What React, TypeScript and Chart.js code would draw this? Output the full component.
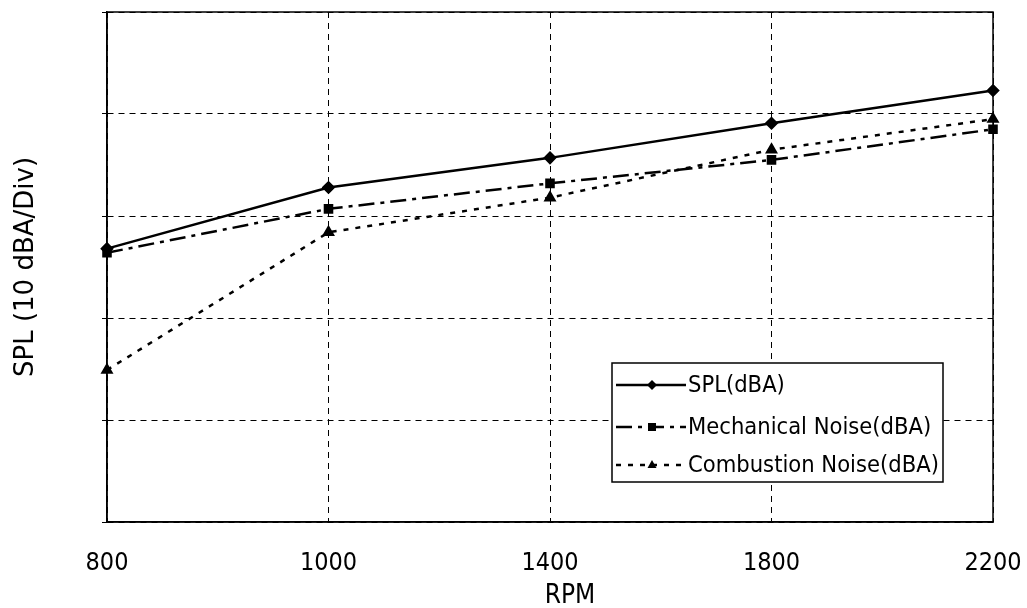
import React, { useEffect, useRef } from "react";
import { Chart, registerables } from "chart.js";

Chart.register(...registerables);

const rpmLabels = ["800", "1000", "1400", "1800", "2200"];
const splValues = [2.68, 3.28, 3.57, 3.91, 4.23];
const mechanicalValues = [2.64, 3.07, 3.32, 3.55, 3.85];
const combustionValues = [1.49, 2.84, 3.18, 3.65, 3.95];
const seriesNames = ["SPL(dBA)", "Mechanical Noise(dBA)", "Combustion Noise(dBA)"];
const yAxisMin = 0;
const yAxisMax = 5;
const yAxisStep = 1;
const yTitle = "SPL (10 dBA/Div)";
const xTitle = "RPM";

const narrowFont = "'DejaVu Sans Condensed', 'Liberation Sans Narrow', 'Liberation Sans', Arial, sans-serif";
const regularFont = "'DejaVu Sans', 'Liberation Sans', Arial, sans-serif";

function drawMarker(ctx: CanvasRenderingContext2D, style: string, x: number, y: number, r: number) {
  ctx.save();
  ctx.fillStyle = "#000";
  ctx.setLineDash([]);
  ctx.beginPath();
  if (style === "rectRot") {
    ctx.moveTo(x, y - r);
    ctx.lineTo(x + r, y);
    ctx.lineTo(x, y + r);
    ctx.lineTo(x - r, y);
  } else if (style === "rect") {
    ctx.rect(x - r * 0.8, y - r * 0.8, r * 1.6, r * 1.6);
  } else {
    ctx.moveTo(x, y - r);
    ctx.lineTo(x + r * 0.9, y + r * 0.6);
    ctx.lineTo(x - r * 0.9, y + r * 0.6);
  }
  ctx.closePath();
  ctx.fill();
  ctx.restore();
}

const framePlugin = {
  id: "frame",
  beforeDatasetsDraw(chart: any) {
    const { ctx, chartArea } = chart;
    ctx.save();
    ctx.strokeStyle = "#000";
    ctx.lineWidth = 1.5;
    ctx.setLineDash([]);
    ctx.strokeRect(chartArea.left, chartArea.top, chartArea.right - chartArea.left, chartArea.bottom - chartArea.top);
    ctx.restore();
  },
};

const xTitlePlugin = {
  id: "xTitleText",
  afterDraw(chart: any) {
    const { ctx, chartArea } = chart;
    ctx.save();
    ctx.fillStyle = "#000";
    ctx.font = "26px " + narrowFont;
    ctx.textAlign = "center";
    ctx.textBaseline = "middle";
    ctx.fillText(xTitle, (chartArea.left + chartArea.right) / 2 + 20, chartArea.bottom + 74);
    ctx.restore();
  },
};

const legendPlugin = {
  id: "boxLegend",
  afterDraw(chart: any) {
    const { ctx, chartArea } = chart;
    const bx = chartArea.left + 505;
    const by = chartArea.top + 351;
    const bw = 331;
    const bh = 119;
    ctx.save();
    ctx.fillStyle = "#fff";
    ctx.fillRect(bx, by, bw, bh);
    ctx.strokeStyle = "#000";
    ctx.lineWidth = 1.5;
    ctx.setLineDash([]);
    ctx.strokeRect(bx, by, bw, bh);
    const rows = [22, 64, 102];
    chart.data.datasets.forEach((ds: any, i: number) => {
      const y = by + rows[i];
      ctx.save();
      ctx.strokeStyle = "#000";
      ctx.lineWidth = ds.borderWidth;
      ctx.setLineDash(ds.borderDash || []);
      ctx.beginPath();
      ctx.moveTo(bx + 4, y);
      ctx.lineTo(bx + 74, y);
      ctx.stroke();
      ctx.restore();
      drawMarker(ctx, ds.pointStyle, bx + 40, y, ds.pointRadius);
      ctx.fillStyle = "#000";
      ctx.font = "23.5px " + narrowFont;
      ctx.textBaseline = "middle";
      ctx.textAlign = "left";
      ctx.fillText(ds.label, bx + 76, y + 1);
    });
    ctx.restore();
  },
};

export default function App() {
  const canvasRef = useRef<HTMLCanvasElement | null>(null);

  useEffect(() => {
    if (!canvasRef.current) return;
    const chart = new Chart(canvasRef.current, {
      type: "line",
      data: {
        labels: rpmLabels,
        datasets: [
          {
            label: seriesNames[0],
            data: splValues,
            borderColor: "#000",
            backgroundColor: "#000",
            borderWidth: 2.5,
            pointStyle: "rectRot",
            pointRadius: 5,
            tension: 0,
          },
          {
            label: seriesNames[1],
            data: mechanicalValues,
            borderColor: "#000",
            backgroundColor: "#000",
            borderWidth: 2.5,
            borderDash: [16, 6, 4, 6],
            pointStyle: "rect",
            pointRadius: 5,
            tension: 0,
          },
          {
            label: seriesNames[2],
            data: combustionValues,
            borderColor: "#000",
            backgroundColor: "#000",
            borderWidth: 2.5,
            borderDash: [5, 7],
            pointStyle: "triangle",
            pointRadius: 5,
            tension: 0,
          },
        ],
      },
      options: {
        animation: false,
        responsive: false,
        maintainAspectRatio: false,
        layout: { padding: { top: 12, right: 34, left: 0, bottom: 0 } },
        plugins: {
          legend: { display: false },
          tooltip: { enabled: false },
        },
        scales: {
          x: {
            type: "category",
            offset: false,
            grid: {
              color: "#000",
              lineWidth: 1,
              drawTicks: false,
            },
            border: { display: true, color: "#000", width: 1.5, dash: [6, 5] },
            ticks: {
              color: "#000",
              padding: 26,
              maxRotation: 0,
              font: { family: narrowFont, size: 25 },
            },
            title: { display: false },
            afterFit(scale: any) {
              scale.height = 86;
              scale.paddingLeft = 0;
              scale.paddingRight = 0;
            },
          },
          y: {
            min: yAxisMin,
            max: yAxisMax,
            grid: {
              color: "#000",
              lineWidth: 1,
              drawTicks: true,
              tickLength: 5,
            },
            border: { display: true, color: "#000", width: 1.5, dash: [6, 5] },
            ticks: { display: false, stepSize: yAxisStep },
            title: {
              display: true,
              text: yTitle,
              color: "#000",
              font: { family: regularFont, size: 26 },
              padding: { top: 11, bottom: 0 },
            },
            afterFit(scale: any) {
              scale.width = 107;
              scale.paddingTop = 0;
              scale.paddingBottom = 0;
            },
          },
        },
      },
      plugins: [framePlugin, legendPlugin, xTitlePlugin],
    } as any);
    return () => chart.destroy();
  }, []);

  return (
    <div style={{ position: "fixed", left: 0, top: 0, width: 1027, height: 608, background: "#fff" }}>
      <canvas ref={canvasRef} width={1027} height={608} style={{ display: "block" }} />
    </div>
  );
}
